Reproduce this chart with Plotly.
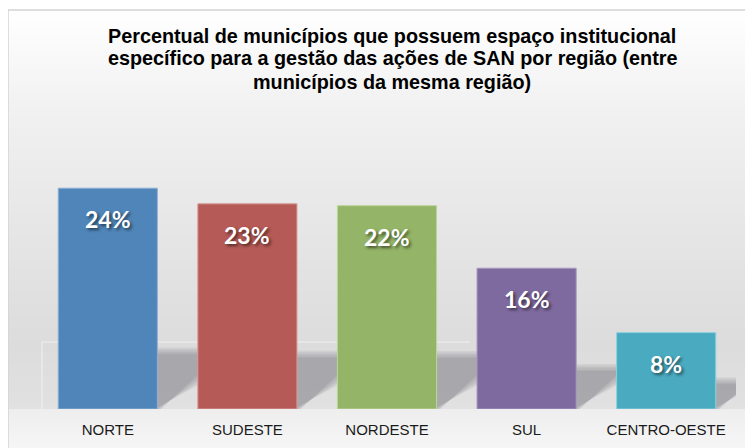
import plotly.graph_objects as go

# ---- data ----
categories = ["NORTE", "SUDESTE", "NORDESTE", "SUL", "CENTRO-OESTE"]
values = [24.0, 22.3, 22.1, 15.3, 8.3]          # bar heights (%)
value_labels = ["24%", "23%", "22%", "16%", "8%"]
bar_colors = ["#4f85b8", "#b55a56", "#94b467", "#7f6a9f", "#4aaabf"]
edge_colors = ["#8fb0d4", "#d99a97", "#bcd39a", "#a796c0", "#8ccfdf"]
title_lines = ["Percentual de municípios que possuem espaço institucional",
               "específico para a gestão das ações de SAN por região (entre",
               "municípios da mesma região)"]

W, H = 753, 448
OFF = 8                      # page body margin offset
ML, MR, MT, MB = 30, 25, 92, 47
PW, PH = W - ML - MR, H - MT - MB
PXU = 9.2                    # pixels per percentage point
YMAX = PH / PXU
XPX = PW / len(categories)   # pixels per category


def px_x(p):
    """screenshot x pixel -> paper x"""
    return (p - OFF - ML) / PW


def px_y(p):
    """screenshot y pixel -> paper y"""
    return (H - MB - (p - OFF)) / PH


def lerp_color(c1, c2, t):
    a = [int(c1[i:i + 2], 16) for i in (1, 3, 5)]
    b = [int(c2[i:i + 2], 16) for i in (1, 3, 5)]
    return "rgb(%d,%d,%d)" % tuple(round(a[k] + (b[k] - a[k]) * t) for k in range(3))


shapes = []
# background gradient bands inside the chart frame
stops = [(10, "#ffffff"), (110, "#f1f1f1"), (240, "#e5e5e5"), (345, "#dcdcdc"),
         (409, "#e1e1e1"), (409.01, "#eeeeee"), (460, "#f8f8f8")]
step = 3
y = 10
while y < 460:
    y2 = min(y + step, 460)
    mid = (y + y2) / 2
    for (a, ca), (b, cb) in zip(stops[:-1], stops[1:]):
        if a <= mid <= b:
            col = lerp_color(ca, cb, (mid - a) / (b - a))
            break
    shapes.append(dict(type="rect", xref="paper", yref="paper", layer="below",
                       x0=px_x(8), x1=px_x(W + 20), y0=px_y(y2 + 0.5), y1=px_y(y),
                       fillcolor=col, line=dict(width=0)))
    y = y2
# frame border
shapes.append(dict(type="rect", xref="paper", yref="paper", layer="below",
                   x0=px_x(8), x1=px_x(W + 30), y0=px_y(H + 30), y1=px_y(10),
                   fillcolor="rgba(0,0,0,0)", line=dict(color="#d4d4d4", width=1.5)))
# faint back-wall edges
shapes.append(dict(type="line", xref="paper", yref="paper", layer="below",
                   x0=px_x(42), x1=px_x(470), y0=px_y(342), y1=px_y(342),
                   line=dict(color="rgba(255,255,255,0.6)", width=1)))
shapes.append(dict(type="line", xref="paper", yref="paper", layer="below",
                   x0=px_x(42), x1=px_x(42), y0=0, y1=px_y(342),
                   line=dict(color="rgba(255,255,255,0.6)", width=1)))

# soft floor shadows behind each bar (derived from bar position and height)
half = 0.355
for i, v in enumerate(values):
    top_px = 1.9 * v + 9
    xr = i + half
    for grow in [7, 5.5, 4, 2.5, 1, 0]:
        x0 = xr
        x1 = xr + (40 + grow) / XPX
        yt = (top_px + grow) / PXU
        yb = 0
        xd0 = xr + (4 - grow) / XPX
        yd1 = (34 - grow) / PXU
        path = "M {x0},{yb} L {x0},{yt} L {x1},{yt} L {x1},{yd1} L {xd0},{yb} Z".format(
            x0=x0, x1=x1, yt=yt, yb=yb, yd1=yd1, xd0=xd0)
        shapes.append(dict(type="path", xref="x", yref="y", layer="below", path=path,
                           fillcolor="rgba(115,115,125,0.11)", line=dict(width=0)))

fig = go.Figure()
fig.add_trace(go.Bar(
    x=list(range(len(categories))), y=values, width=0.71,
    marker=dict(color=bar_colors, line=dict(color=edge_colors, width=1)),
    hoverinfo="skip",
))

annotations = []
for i, (v, t) in enumerate(zip(values, value_labels)):
    annotations.append(dict(x=i, y=v, xref="x", yref="y", text="<b>%s</b>" % t,
                            showarrow=False, yanchor="middle", yshift=-31,
                            font=dict(family="Lato", size=23, color="white",
                                      shadow="2px 2px 3px rgba(0,0,0,0.55)")))
for k, line in enumerate(title_lines):
    annotations.append(dict(x=px_x(392), y=px_y(35.5 + 23 * k), xref="paper", yref="paper",
                            xanchor="center", yanchor="middle", text="<b>%s</b>" % line,
                            showarrow=False, align="center",
                            font=dict(family="Liberation Sans", size=19.8, color="#000000")))

fig.update_layout(
    width=W, height=H,
    margin=dict(l=ML, r=MR, t=MT, b=MB, pad=0),
    paper_bgcolor="white", plot_bgcolor="rgba(0,0,0,0)",
    showlegend=False,
    shapes=shapes, annotations=annotations,
    bargap=0.29,
    xaxis=dict(range=[-0.5, len(categories) - 0.5], tickvals=list(range(len(categories))),
               ticktext=categories, showgrid=False, zeroline=False, showline=False,
               ticks="", ticklabelstandoff=10,
               tickfont=dict(family="Liberation Sans", size=15, color="#1a1a1a")),
    yaxis=dict(range=[0, YMAX], visible=False, showgrid=False, zeroline=False),
)

fig.write_html("out.html")
